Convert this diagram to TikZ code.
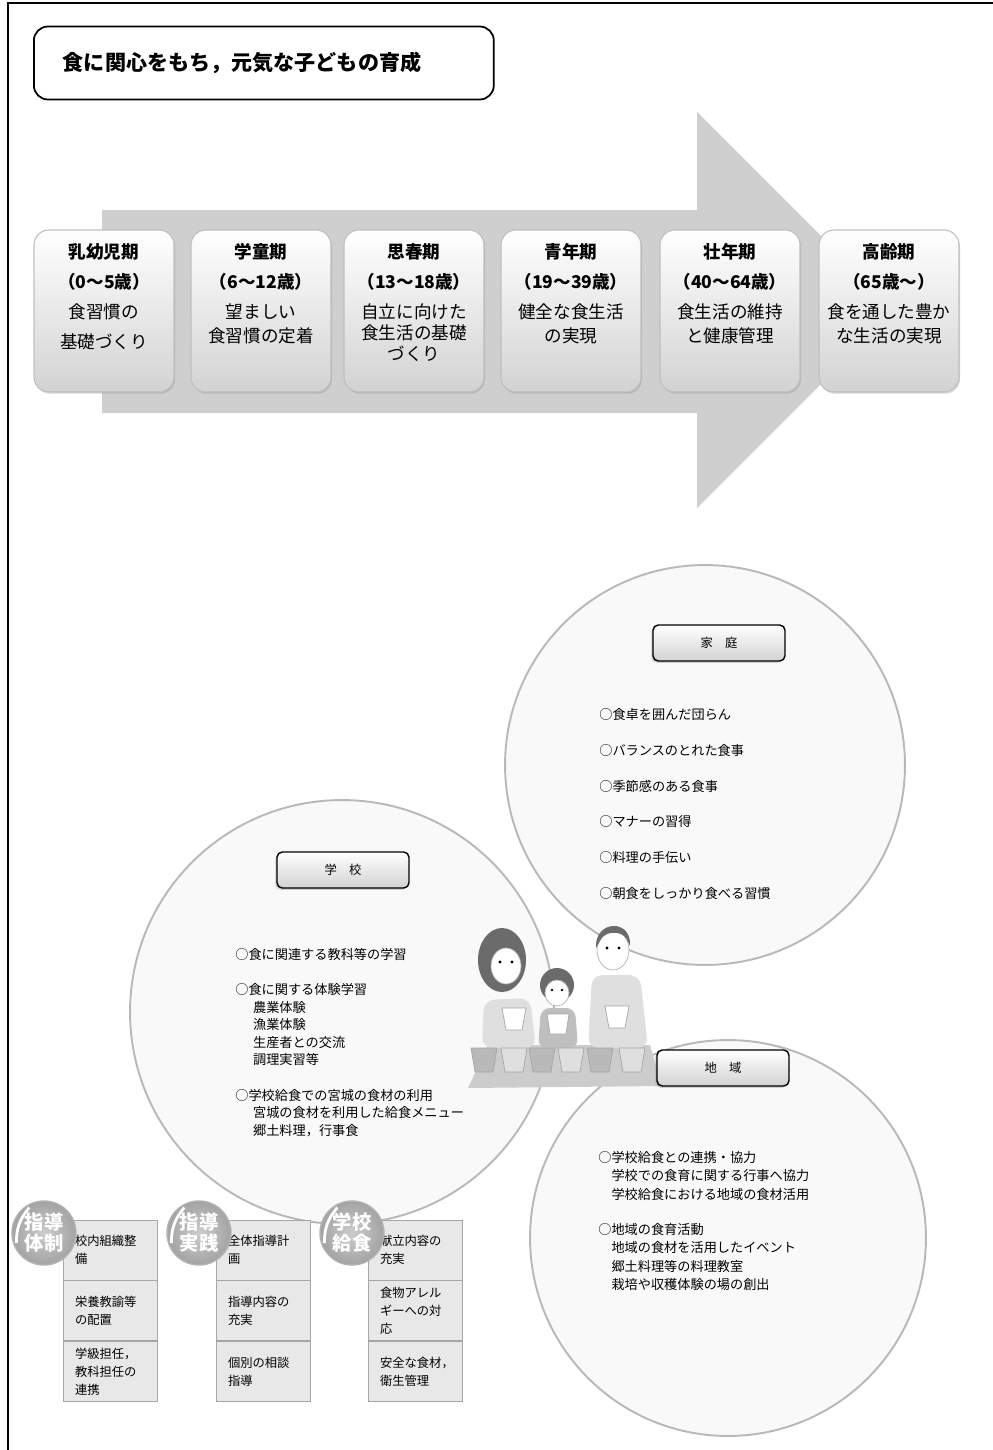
\documentclass[tikz,border=0pt]{standalone}
\usepackage{fontspec}
\setmainfont{Noto Sans CJK JP}
\usetikzlibrary{positioning,shadows,calc}
\definecolor{arrowgray}{gray}{0.81}
\definecolor{ringgray}{gray}{0.66}
\definecolor{cellgray}{gray}{0.91}
\definecolor{hairgray}{gray}{0.42}

\tikzset{
  titlebox/.style={draw,line width=1pt,rounded corners=8pt,anchor=west,
    minimum width=9.2cm,minimum height=1.46cm,text width=8.04cm,inner xsep=0.58cm,
    align=left,font=\bfseries\fontsize{12}{14}\selectfont},
  stagebox/.style={draw=gray!50,line width=0.6pt,rounded corners=0.3cm,
    minimum width=2.8cm,minimum height=3.24cm,
    top color=white,middle color=white,bottom color=gray!35,
    drop shadow={shadow xshift=0.6pt,shadow yshift=-1pt,opacity=0.3}},
  stagetext/.style={anchor=north,align=center,inner sep=0pt,
    font=\fontsize{10}{13.6}\selectfont},
  ring/.style={circle,draw=ringgray,line width=1.1pt,fill=gray!6,
    fill opacity=0.7,draw opacity=0.8,inner sep=0pt},
  tagbox/.style={draw,line width=0.8pt,rounded corners=3pt,
    minimum width=2.64cm,minimum height=0.72cm,
    top color=white,bottom color=gray!35,font=\fontsize{7}{8}\selectfont,
    drop shadow={shadow xshift=-1pt,shadow yshift=-1pt,opacity=0.35}},
  itemlist/.style={anchor=north west,align=left,inner sep=0pt},
  badge/.style={circle,minimum size=1.28cm,inner sep=0pt,draw=gray!60,
    line width=0.8pt,inner color=gray!40,outer color=gray!72,text=white,
    align=center,font=\bfseries\fontsize{11}{12}\selectfont},
  cell/.style={draw=gray!70,fill=cellgray,minimum width=1.88cm,
    minimum height=1.2cm,text width=1.4cm,inner xsep=0.24cm,align=left,
    font=\fontsize{7}{10.2}\selectfont},
}

\begin{document}
\begin{tikzpicture}[x=0.02cm,y=-0.02cm]
  \useasboundingbox (0,0) rectangle (993,1450);
  % page frame
  \draw[line width=0.8pt] (8,1450) -- (8,3) -- (993,3);

  % title
  \node[titlebox] (title) at (33,63) {食に関心をもち，元気な子どもの育成};

  % life stages on the big arrow
  \fill[arrowgray] (102,210) -- (697,210) -- (697,112) -- (895,310)
       -- (697,508) -- (697,413) -- (102,413) -- cycle;
  \node[stagebox] (s1) at (104,311) {};
  \node[stagebox] (s2) at (261,311) {};
  \node[stagebox] (s3) at (414,311) {};
  \node[stagebox] (s4) at (571,311) {};
  \node[stagebox] (s5) at (730,311) {};
  \node[stagebox] (s6) at (889,311) {};
  \node[stagetext] (t1) at ([yshift=-0.28cm]s1.north)
       {\textbf{乳幼児期}\\[3.4pt]\textbf{（0〜5歳）}\\[3.4pt]食習慣の\\[3.4pt]基礎づくり};
  \node[stagetext] (t2) at ([yshift=-0.28cm]s2.north)
       {\textbf{学童期}\\[3.4pt]\textbf{（6〜12歳）}\\[3.4pt]望ましい\\食習慣の定着};
  \node[stagetext] (t3) at ([yshift=-0.28cm]s3.north)
       {\textbf{思春期}\\[3.4pt]\textbf{（13〜18歳）}\\[3.4pt]自立に向けた\\[-1.6pt]食生活の基礎\\[-1.6pt]づくり};
  \node[stagetext] (t4) at ([yshift=-0.28cm]s4.north)
       {\textbf{青年期}\\[3.4pt]\textbf{（19〜39歳）}\\[3.4pt]健全な食生活\\の実現};
  \node[stagetext] (t5) at ([yshift=-0.28cm]s5.north)
       {\textbf{壮年期}\\[3.4pt]\textbf{（40〜64歳）}\\[3.4pt]食生活の維持\\と健康管理};
  \node[stagetext] (t6) at ([yshift=-0.28cm]s6.north)
       {\textbf{高齢期}\\[3.4pt]\textbf{（65歳〜）}\\[3.4pt]食を通した豊か\\な生活の実現};

  % three circles
  \node[ring,minimum size=8.48cm] (school) at (342,1012) {};
  \node[ring,minimum size=8cm] (home) at (705,765) {};
  \node[ring,minimum size=7.92cm] (area) at (728,1238) {};

  % family at the table
  \fill[gray!40] (488,1045) -- (650,1045) -- (662,1086) -- (468,1088) -- cycle;
  % mother
  \fill[hairgray] (502,960) ellipse (24 and 32);
  \fill[gray!25,rounded corners=6] (482,1048) -- (484,1000) -- (530,998) -- (536,1048) -- cycle;
  \filldraw[fill=white,draw=gray!60] (506,966) ellipse (15 and 18);
  \fill (500,962) circle (1.6) (512,962) circle (1.6);
  \filldraw[fill=white,draw=gray!70] (502,1008) -- (526,1008) -- (522,1030) -- (506,1030) -- cycle;
  % child
  \fill[hairgray] (557,985) circle (17);
  \fill[gray!50,rounded corners=5] (538,1048) -- (541,1008) -- (575,1008) -- (578,1048) -- cycle;
  \filldraw[fill=white,draw=gray!60] (557,993) ellipse (12 and 13);
  \fill (552,990) circle (1.4) (562,990) circle (1.4);
  \filldraw[fill=white,draw=gray!70] (547,1014) -- (569,1014) -- (566,1034) -- (550,1034) -- cycle;
  % father
  \fill[gray!25,rounded corners=6] (588,1048) -- (592,975) -- (640,975) -- (648,1048) -- cycle;
  \filldraw[fill=white,draw=gray!60] (613,950) ellipse (16 and 20);
  \fill[hairgray] (596,948) .. controls (594,920) and (632,918) .. (630,946)
       -- (626,938) .. controls (620,930) and (604,931) .. (600,941) -- cycle;
  \fill (607,948) circle (1.6) (619,948) circle (1.6);
  \filldraw[fill=white,draw=gray!70] (605,1006) -- (629,1006) -- (625,1028) -- (609,1028) -- cycle;
  % bowls
  \foreach \x/\c in {484/gray!55,514/gray!25,542/gray!55,571/gray!25,600/gray!55,632/gray!25}
    \filldraw[fill=\c,draw=gray!70] (\x-13,1048) -- (\x+13,1048) -- (\x+9,1072) -- (\x-9,1072) -- cycle;

  % circle headings
  \node[tagbox] (hometag) at (719,643) {家　庭};
  \node[tagbox] (schooltag) at (343,870) {学　校};
  \node[tagbox] (areatag) at (723,1068) {地　域};

  % what each side does
  \node[itemlist,font=\fontsize{7.5}{20.4}\selectfont] (homelist) at (599,708)
       {○食卓を囲んだ団らん\\○バランスのとれた食事\\○季節感のある食事\\○マナーの習得\\○料理の手伝い\\○朝食をしっかり食べる習慣};
  \node[itemlist,font=\fontsize{7.5}{10}\selectfont] (schoollist) at (235,948)
       {○食に関連する教科等の学習\\[10pt]
        ○食に関する体験学習\\
        \hspace*{1.35em}農業体験\\
        \hspace*{1.35em}漁業体験\\
        \hspace*{1.35em}生産者との交流\\
        \hspace*{1.35em}調理実習等\\[10pt]
        ○学校給食での宮城の食材の利用\\
        \hspace*{1.35em}宮城の食材を利用した給食メニュー\\
        \hspace*{1.35em}郷土料理，行事食};
  \node[itemlist,font=\fontsize{7.5}{10.5}\selectfont] (arealist) at (598,1151)
       {○学校給食との連携・協力\\
        \hspace*{1em}学校での食育に関する行事へ協力\\
        \hspace*{1em}学校給食における地域の食材活用\\[9.3pt]
        ○地域の食育活動\\
        \hspace*{1em}地域の食材を活用したイベント\\
        \hspace*{1em}郷土料理等の料理教室\\
        \hspace*{1em}栽培や収穫体験の場の創出};

  % school side: three columns
  \node[cell] (c11) at (110,1250) {校内組織整\\備};
  \node[cell,below=0pt of c11] (c12) {栄養教諭等\\の配置};
  \node[cell,below=0pt of c12] (c13) {学級担任，\\教科担任の\\連携};
  \node[cell] (c21) at (263,1250) {全体指導計\\画};
  \node[cell,below=0pt of c21] (c22) {指導内容の\\充実};
  \node[cell,below=0pt of c22] (c23) {個別の相談\\指導};
  \node[cell] (c31) at (415,1250) {献立内容の\\充実};
  \node[cell,below=0pt of c31] (c32) {食物アレル\\ギーへの対\\応};
  \node[cell,below=0pt of c32] (c33) {安全な食材，\\衛生管理};
  \node[badge] (b1) at (44,1233) {指導\\体制};
  \node[badge] (b2) at (199,1233) {指導\\実践};
  \node[badge] (b3) at (352,1233) {学校\\給食};
  \foreach \bd in {b1,b2,b3}
    \draw[white,line width=1.6pt] ($(\bd.center)!0.9!(\bd.120)$) to[bend right=20] ($(\bd.center)!0.9!(\bd.200)$);
\end{tikzpicture}
\end{document}
